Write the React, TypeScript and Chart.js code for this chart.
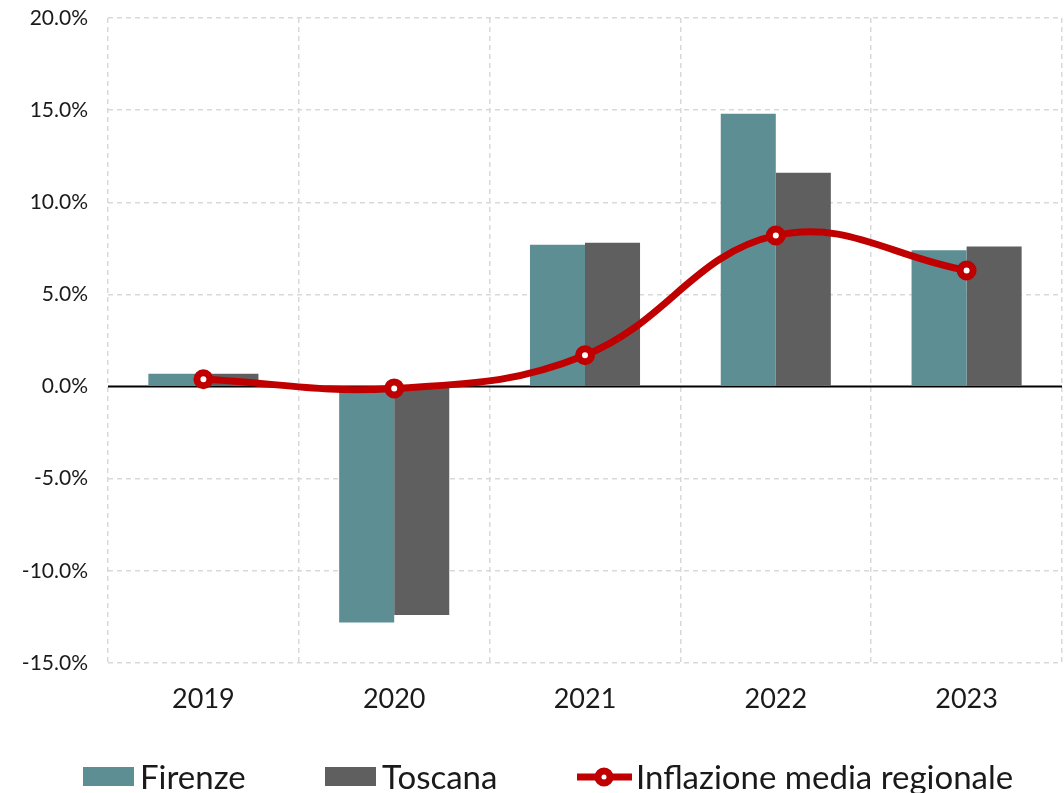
import React, { useEffect, useRef } from "react";
import { Chart, registerables } from "chart.js";

Chart.register(...registerables);

const categories = ["2019", "2020", "2021", "2022", "2023"];
const firenze = [0.7, -12.8, 7.7, 14.8, 7.4];
const toscana = [0.7, -12.4, 7.8, 11.6, 7.6];
const inflazione = [0.4, -0.1, 1.7, 8.2, 6.3];
const yTicks = [-15, -10, -5, 0, 5, 10, 15, 20];

const FONT = "Lato, 'Open Sans', sans-serif";
const TEAL = "#5D8E93";
const GREY = "#5F5F5F";
const RED = "#C00000";

const zeroLinePlugin = {
  id: "zeroLine",
  beforeDatasetsDraw(chart: any) {
    const y = chart.scales.y.getPixelForValue(0);
    const { left, right } = chart.chartArea;
    const ctx = chart.ctx;
    ctx.save();
    ctx.strokeStyle = "#000000";
    ctx.lineWidth = 2;
    ctx.beginPath();
    ctx.moveTo(left, y);
    ctx.lineTo(right, y);
    ctx.stroke();
    ctx.restore();
  },
};

const legendPlugin = {
  id: "customLegend",
  afterDraw(chart: any) {
    const ctx = chart.ctx;
    const ds = chart.data.datasets;
    const order = [1, 2, 0];
    const fontSize = 33;
    const cy = 777;
    const starts = [83, 325, 577];
    ctx.save();
    ctx.font = `${fontSize}px ${FONT}`;
    ctx.textBaseline = "middle";
    order.forEach((i, k) => {
      const d = ds[i];
      let x = starts[k];
      if (d.type === "line") {
        ctx.strokeStyle = RED;
        ctx.lineWidth = 7;
        ctx.beginPath();
        ctx.moveTo(x, cy);
        ctx.lineTo(x + 55, cy);
        ctx.stroke();
        ctx.beginPath();
        ctx.arc(x + 27, cy, 6, 0, Math.PI * 2);
        ctx.fillStyle = "#ffffff";
        ctx.fill();
        ctx.lineWidth = 7;
        ctx.strokeStyle = RED;
        ctx.stroke();
        x += 59;
      } else {
        ctx.fillStyle = d.backgroundColor;
        ctx.fillRect(x, cy - 10, 51, 19);
        x += 57;
      }
      ctx.fillStyle = "#1a1a1a";
      ctx.fillText(d.label, x, cy + 1);
    });
    ctx.restore();
  },
};

export default function App() {
  const ref = useRef<HTMLCanvasElement>(null);
  useEffect(() => {
    const chart = new Chart(ref.current as HTMLCanvasElement, {
      type: "bar",
      data: {
        labels: categories,
        datasets: [
          {
            type: "line",
            label: "Inflazione media regionale",
            data: inflazione,
            borderColor: RED,
            borderWidth: 7,
            tension: 0.4,
            pointRadius: 6.5,
            pointBorderWidth: 7,
            pointBackgroundColor: "#ffffff",
            pointBorderColor: RED,
            order: 0,
          } as any,
          {
            label: "Firenze",
            data: firenze,
            backgroundColor: TEAL,
            categoryPercentage: 0.577,
            barPercentage: 1,
            order: 1,
          },
          {
            label: "Toscana",
            data: toscana,
            backgroundColor: GREY,
            categoryPercentage: 0.577,
            barPercentage: 1,
            order: 2,
          },
        ],
      },
      options: {
        responsive: false,
        animation: false,
        layout: { autoPadding: false, padding: { top: 18, right: 2, bottom: 70, left: 0 } },
        plugins: {
          legend: { display: false },
          tooltip: { enabled: false },
        },
        scales: {
          x: {
            grid: {
              color: "#d9d9d9",
              lineWidth: 1.5,
              drawTicks: false,
              offset: true,
            },
            border: { display: false, dash: [5, 4] },
            ticks: {
              color: "#1a1a1a",
              font: { family: FONT, size: 27 },
              padding: 20,
            },
            afterFit(scale: any) {
              scale.height = 60;
              scale.paddingLeft = 0;
              scale.paddingRight = 0;
              scale.paddingTop = 0;
              scale.paddingBottom = 0;
            },
          },
          y: {
            min: -15,
            max: 20,
            afterBuildTicks(scale: any) {
              scale.ticks = yTicks.map((v) => ({ value: v }));
            },
            grid: {
              color: (c: any) => (c.tick && c.tick.value === 0 ? "rgba(0,0,0,0)" : "#d9d9d9"),
              lineWidth: 1.5,
              drawTicks: false,
            },
            border: { display: false, dash: [5, 4] },
            ticks: {
              color: "#1a1a1a",
              font: { family: FONT, size: 21 },
              padding: 20,
              callback: (v: any) => Number(v).toFixed(1) + "%",
            },
            afterFit(scale: any) {
              scale.width = 108;
              scale.paddingTop = 0;
              scale.paddingBottom = 0;
              scale.paddingLeft = 0;
              scale.paddingRight = 0;
            },
          },
        },
      },
      plugins: [zeroLinePlugin, legendPlugin],
    });
    return () => chart.destroy();
  }, []);
  return (
    <div style={{ position: "absolute", left: 0, top: 0, width: 1064, height: 793, background: "#fff" }}>
      <canvas ref={ref} width={1064} height={793} />
    </div>
  );
}
